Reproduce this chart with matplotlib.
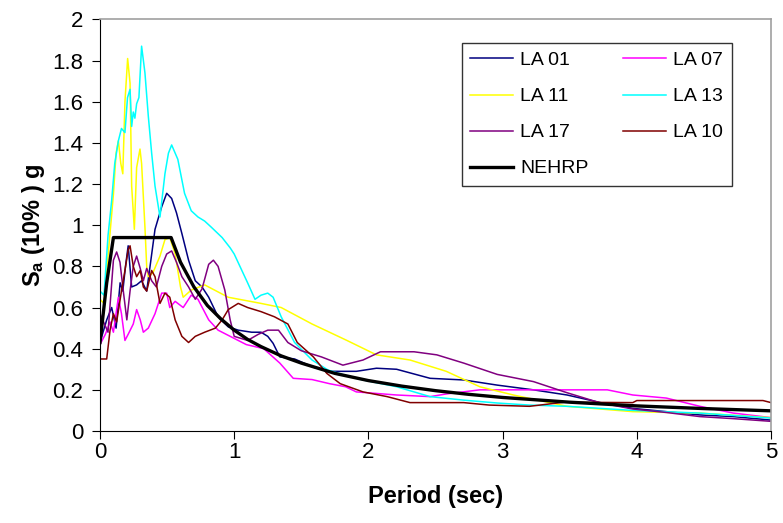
import matplotlib
matplotlib.use("Agg")
import matplotlib.pyplot as plt

plt.rcParams['font.family'] = ['Liberation Sans', 'DejaVu Sans']
plt.rcParams['mathtext.fontset'] = 'custom'
plt.rcParams['mathtext.rm'] = 'Liberation Sans'
plt.rcParams['mathtext.bf'] = 'Liberation Sans:bold'

# LA 01
t_la01 = [0.0, 0.05, 0.087, 0.12, 0.15, 0.17, 0.19, 0.21, 0.236, 0.273, 0.31, 0.348, 0.373,
          0.41, 0.46, 0.497, 0.534, 0.57, 0.61, 0.66, 0.71, 0.76, 0.81, 0.88, 0.956, 1.03,
          1.13, 1.2, 1.25, 1.29, 1.34, 1.45, 1.59, 1.71, 1.91, 2.06, 2.21, 2.46, 2.71, 2.96,
          3.23, 3.48, 3.73, 3.97, 4.22, 4.47, 4.72, 5.0]
sa_la01 = [0.43, 0.54, 0.6, 0.5, 0.72, 0.68, 0.8, 0.9, 0.70, 0.71, 0.73, 0.68, 0.80,
           0.98, 1.09, 1.155, 1.13, 1.06, 0.96, 0.83, 0.73, 0.70, 0.65, 0.555, 0.506, 0.49,
           0.48, 0.48, 0.46, 0.426, 0.36, 0.35, 0.31, 0.29, 0.29, 0.305, 0.30, 0.256, 0.248, 0.223,
           0.2, 0.175, 0.138, 0.11, 0.094, 0.078, 0.07, 0.053]

# LA 07
t_la07 = [0.0, 0.04, 0.075, 0.1, 0.137, 0.16, 0.186, 0.21, 0.248, 0.273, 0.3, 0.323, 0.36,
          0.41, 0.46, 0.497, 0.52, 0.56, 0.62, 0.68, 0.73, 0.81, 0.88, 0.97, 1.09, 1.22,
          1.34, 1.44, 1.58, 1.71, 1.83, 1.91, 2.21, 2.46, 2.58, 2.83, 3.2, 3.5, 3.78, 3.97,
          4.22, 4.47, 4.72, 5.0]
sa_la07 = [0.42, 0.47, 0.53, 0.48, 0.65, 0.57, 0.44, 0.47, 0.52, 0.59, 0.54, 0.48, 0.5,
           0.57, 0.67, 0.67, 0.6, 0.63, 0.60, 0.66, 0.64, 0.54, 0.49, 0.46, 0.42, 0.40,
           0.33, 0.256, 0.25, 0.23, 0.215, 0.19, 0.175, 0.167, 0.18, 0.2, 0.2, 0.2, 0.2, 0.175,
           0.16, 0.12, 0.087, 0.065]

# LA 11
t_la11 = [0.0, 0.03, 0.06, 0.08, 0.1, 0.12, 0.137, 0.155, 0.17, 0.186, 0.206, 0.224, 0.236,
          0.256, 0.273, 0.298, 0.31, 0.335, 0.348, 0.36, 0.395, 0.447, 0.484, 0.52, 0.56,
          0.6, 0.62, 0.68, 0.78, 0.955, 1.2, 1.35, 1.58, 1.84, 2.06, 2.31, 2.58, 2.83, 3.08,
          3.48, 3.97, 4.47, 5.0]
sa_la11 = [0.64, 0.62, 0.85, 1.0, 1.15, 1.35, 1.41, 1.3, 1.25, 1.6, 1.81, 1.69, 1.19,
           0.98, 1.28, 1.37, 1.3, 0.99, 0.80, 0.75, 0.77, 0.85, 0.93, 0.94, 0.86,
           0.70, 0.65, 0.685, 0.71, 0.65, 0.62, 0.60, 0.52, 0.44, 0.37, 0.345, 0.29, 0.215, 0.175,
           0.12, 0.094, 0.087, 0.065]

# LA 13
t_la13 = [0.0, 0.03, 0.06, 0.087, 0.11, 0.137, 0.16, 0.186, 0.205, 0.224, 0.236, 0.248, 0.26,
          0.273, 0.29, 0.31, 0.335, 0.36, 0.385, 0.41, 0.447, 0.484, 0.51, 0.534, 0.58, 0.63,
          0.68, 0.73, 0.78, 0.83, 0.91, 0.97, 1.0, 1.1, 1.155, 1.2, 1.25, 1.29, 1.35, 1.45,
          1.58, 1.70, 1.83, 1.96, 2.21, 2.46, 2.71, 2.96, 3.2, 3.48, 3.97, 4.47, 5.0]
sa_la13 = [0.68, 0.66, 0.95, 1.12, 1.3, 1.41, 1.47, 1.45, 1.62, 1.66, 1.48, 1.55, 1.52,
           1.59, 1.62, 1.87, 1.74, 1.53, 1.35, 1.19, 1.04, 1.25, 1.35, 1.39, 1.32, 1.155,
           1.07, 1.04, 1.02, 0.99, 0.94, 0.89, 0.86, 0.72, 0.64, 0.66, 0.67, 0.65, 0.555, 0.43,
           0.345, 0.296, 0.27, 0.248, 0.215, 0.167, 0.15, 0.136, 0.126, 0.12, 0.10, 0.087, 0.063]

# LA 17
t_la17 = [0.0, 0.06, 0.1, 0.124, 0.149, 0.17, 0.2, 0.224, 0.248, 0.273, 0.3, 0.323, 0.348,
          0.385, 0.42, 0.46, 0.497, 0.534, 0.57, 0.61, 0.66, 0.71, 0.76, 0.81, 0.845, 0.88,
          0.93, 0.97, 1.0, 1.1, 1.18, 1.25, 1.33, 1.4, 1.5, 1.65, 1.81, 1.96, 2.09, 2.34,
          2.51, 2.71, 2.96, 3.23, 3.48, 3.73, 3.97, 4.22, 4.47, 4.72, 5.0]
sa_la17 = [0.57, 0.48, 0.83, 0.87, 0.82, 0.70, 0.54, 0.68, 0.80, 0.85, 0.79, 0.73, 0.79,
           0.73, 0.70, 0.80, 0.86, 0.875, 0.82, 0.75, 0.70, 0.64, 0.69, 0.81, 0.83, 0.80,
           0.685, 0.54, 0.46, 0.44, 0.47, 0.49, 0.49, 0.43, 0.39, 0.36, 0.32, 0.345, 0.385, 0.385,
           0.37, 0.33, 0.275, 0.24, 0.186, 0.136, 0.107, 0.09, 0.07, 0.06, 0.047]

# LA 10
t_la10 = [0.0, 0.05, 0.075, 0.1, 0.124, 0.16, 0.186, 0.21, 0.224, 0.248, 0.273, 0.3, 0.323,
          0.348, 0.385, 0.41, 0.447, 0.484, 0.52, 0.56, 0.61, 0.66, 0.71, 0.78, 0.86, 0.91,
          0.956, 1.03, 1.1, 1.2, 1.3, 1.4, 1.47, 1.59, 1.69, 1.79, 1.96, 2.14, 2.31, 2.71,
          2.9, 3.2, 3.46, 3.97, 4.0, 4.94, 5.0]
sa_la10 = [0.35, 0.35, 0.49, 0.57, 0.53, 0.68, 0.78, 0.88, 0.9, 0.80, 0.75, 0.78, 0.70,
           0.68, 0.78, 0.75, 0.62, 0.67, 0.65, 0.54, 0.46, 0.43, 0.46, 0.48, 0.5, 0.54,
           0.59, 0.62, 0.60, 0.58, 0.555, 0.52, 0.43, 0.36, 0.28, 0.23, 0.19, 0.167, 0.138, 0.138,
           0.126, 0.12, 0.14, 0.138, 0.148, 0.148, 0.138]

# NEHRP design spectrum
t_nehrp = [0.0, 0.05, 0.1, 0.53, 0.6, 0.7, 0.8, 0.9, 1.0, 1.1, 1.2, 1.35, 1.5, 1.75, 2.0,
           2.25, 2.5, 2.75, 3.0, 3.5, 4.0, 4.5, 5.0]
sa_nehrp = [0.43, 0.72, 0.94, 0.94, 0.82, 0.70, 0.61, 0.545, 0.49, 0.445, 0.41, 0.365, 0.33,
            0.28, 0.245, 0.218, 0.196, 0.178, 0.163, 0.14, 0.122, 0.109, 0.098]

fig = plt.figure(figsize=(7.83, 5.23), dpi=100)
ax = fig.add_axes([0.1277, 0.1759, 0.857, 0.787])

ax.plot(t_la01, sa_la01, color='#000080', lw=1.1, label='LA 01')
ax.plot(t_la07, sa_la07, color='#FF00FF', lw=1.1, label='LA 07')
ax.plot(t_la11, sa_la11, color='#FFFF00', lw=1.1, label='LA 11')
ax.plot(t_la13, sa_la13, color='#00FFFF', lw=1.1, label='LA 13')
ax.plot(t_la17, sa_la17, color='#800080', lw=1.1, label='LA 17')
ax.plot(t_la10, sa_la10, color='#800000', lw=1.1, label='LA 10')
ax.plot(t_nehrp, sa_nehrp, color='black', lw=2.4, label='NEHRP')

ax.set_xlim(0, 5)
ax.set_ylim(0, 2)
ax.set_xticks([0, 1, 2, 3, 4, 5])
ax.set_yticks([0, 0.2, 0.4, 0.6, 0.8, 1, 1.2, 1.4, 1.6, 1.8, 2])
ax.set_yticklabels(['0', '0.2', '0.4', '0.6', '0.8', '1', '1.2', '1.4', '1.6', '1.8', '2'])
ax.tick_params(axis='both', direction='out', length=6, width=0.8, labelsize=16)
ax.tick_params(axis='x', pad=2)
ax.tick_params(axis='y', pad=6)

for side in ['top', 'right']:
    ax.spines[side].set_color('#a0a0a0')
    ax.spines[side].set_linewidth(1.2)

ax.set_xlabel('Period (sec)', fontsize=17, fontweight='bold', labelpad=16)
ax.set_ylabel(r'$\mathbf{S_a}$ (10% ) g', fontsize=17, fontweight='bold', labelpad=4)

handles, labels = ax.get_legend_handles_labels()
order = [0, 2, 4, 6, 1, 3, 5]
leg = ax.legend([handles[i] for i in order], [labels[i] for i in order],
                ncol=2, loc='upper left', bbox_to_anchor=(0.539, 0.943), borderaxespad=0,
                fontsize=14, frameon=True, fancybox=False, edgecolor='black',
                handlelength=2.2, handletextpad=0.35, columnspacing=1.8,
                labelspacing=0.95, borderpad=0.45)
leg.get_frame().set_linewidth(1.0)

fig.savefig('out.png', dpi=100)
